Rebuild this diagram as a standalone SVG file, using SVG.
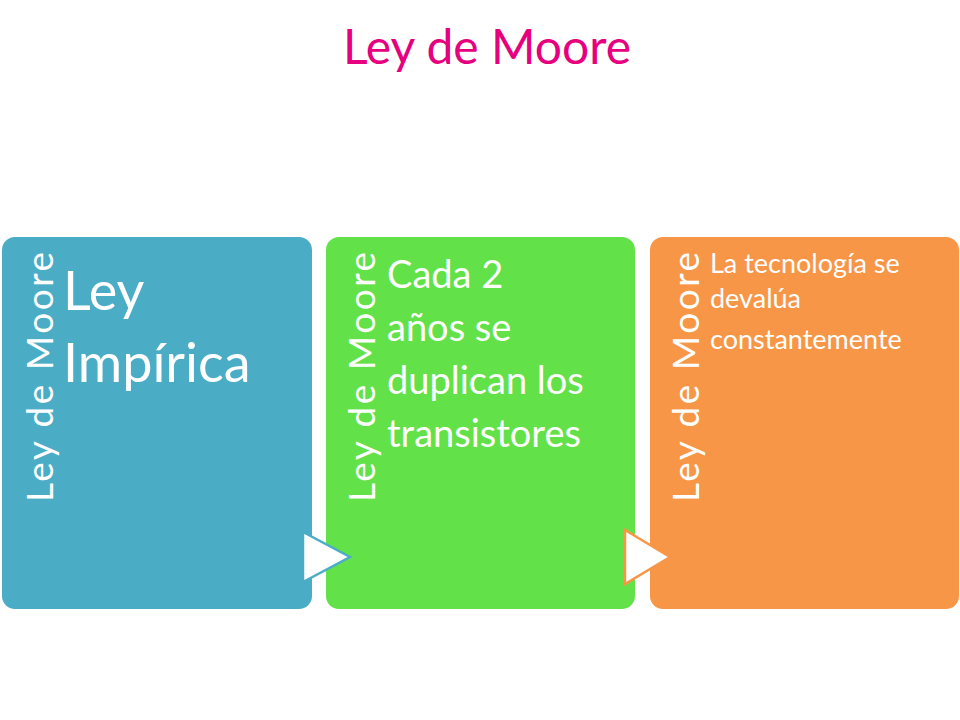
<svg xmlns="http://www.w3.org/2000/svg" width="960" height="720" viewBox="0 0 960 720">
<style>
text{font-family:Lato,"Open Sans","Liberation Sans",sans-serif;fill:#fff}
.v{font-size:37px}
</style>
<rect width="960" height="720" fill="#fff"/>
<text x="487" y="64" text-anchor="middle" style="fill:#e6007e;font-size:48px">Ley de Moore</text>
<g id="n1">
<rect x="2" y="237" width="310" height="372" rx="13" fill="#4bacc6"/>
<text class="v" transform="translate(53,502) rotate(-90)" textLength="250">Ley de Moore</text>
<text x="63" y="310" font-size="54">Ley</text>
<text x="63" y="382" font-size="54">Impírica</text>
</g>
<g id="n2">
<rect x="326" y="237" width="309" height="372" rx="13" fill="#62e248"/>
<text class="v" transform="translate(375,502) rotate(-90)" textLength="250">Ley de Moore</text>
<text x="387" y="288" font-size="38">Cada 2</text>
<text x="387" y="341" font-size="38">años se</text>
<text x="387" y="394" font-size="38">duplican los</text>
<text x="387" y="447" font-size="38">transistores</text>
</g>
<g id="n3">
<rect x="650" y="237" width="309" height="372" rx="13" fill="#f79646"/>
<text class="v" transform="translate(699,502) rotate(-90)" textLength="250">Ley de Moore</text>
<text x="710" y="273" font-size="27">La tecnología se</text>
<text x="710" y="308" font-size="27">devalúa</text>
<text x="710" y="349" font-size="27">constantemente</text>
</g>
<g id="connectors">
<polygon points="303,532 350,557 303,582" fill="#fff" stroke="#4bacc6" stroke-width="2.5"/>
<polygon points="625,530 670,557 625,584" fill="#fff" stroke="#f79646" stroke-width="2.5"/>
</g>
</svg>
